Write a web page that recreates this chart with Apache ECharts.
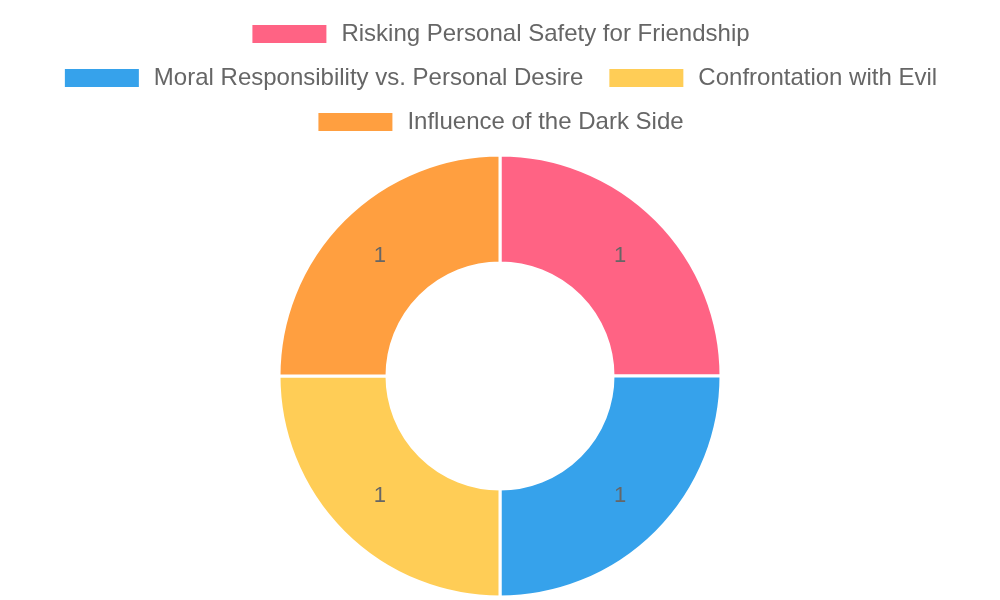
<!DOCTYPE html>
<html><head><meta charset="utf-8">
<script src="https://cdn.jsdelivr.net/npm/echarts@6/dist/echarts.min.js"></script>
<style>html,body{margin:0;padding:0;background:#fff}#c{width:1000px;height:600px}</style>
</head><body><div id="c"></div>
<script>
const categories = ["Risking Personal Safety for Friendship","Moral Responsibility vs. Personal Desire","Confrontation with Evil","Influence of the Dark Side"];
const values = [1,1,1,1];
const colors = ["#ff6384","#36a2eb","#ffcd56","#ff9f40"];
const chart = echarts.init(document.getElementById('c'));
const lg = (top, data) => ({
  top, left:'center', orient:'horizontal',
  itemWidth:76, itemHeight:20, itemGap:24, icon:'rect',
  textStyle:{fontSize:24, color:'#666', fontFamily:'Liberation Sans, Arial', padding:[0,0,0,9]},
  data
});
chart.setOption({
  animation:false,
  color: colors,
  legend:[lg(17,[categories[0]]), lg(61,[categories[1],categories[2]]), lg(105,[categories[3]])],
  series:[{
    type:'pie',
    center:[500,376],
    radius:[113,221],
    startAngle:90,
    clockwise:true,
    avoidLabelOverlap:false,
    itemStyle:{borderColor:'#fff', borderWidth:3},
    label:{position:'inside', formatter:'{c}', fontSize:22, color:'#666', fontFamily:'Liberation Sans, Arial'},
    labelLine:{show:false},
    emphasis:{disabled:true},
    data: categories.map((n,i)=>({name:n, value:values[i]}))
  }]
});
</script></body></html>
